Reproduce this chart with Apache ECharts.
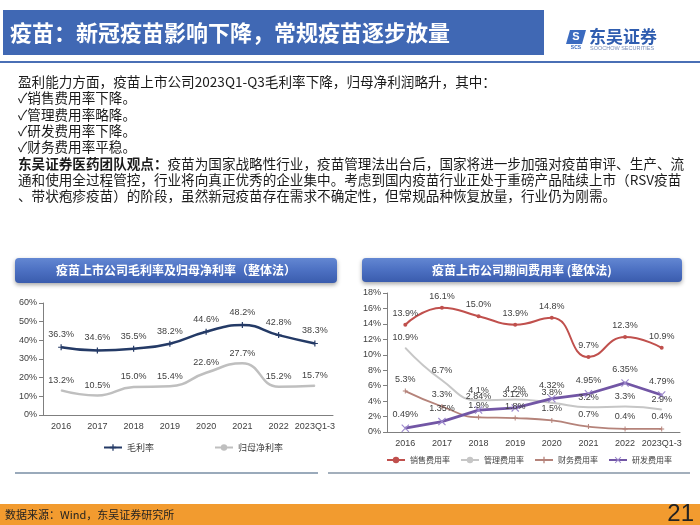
<!DOCTYPE html>
<html>
<head>
<meta charset="utf-8">
<script src="https://cdn.jsdelivr.net/npm/echarts@6/dist/echarts.min.js"></script>
<style>
html,body{margin:0;padding:0;background:#fff;}
#c{width:700px;height:525px;}
</style>
</head>
<body>
<div id="c"></div>
<script>
// ---- data ----
const years = ['2016','2017','2018','2019','2020','2021','2022','2023Q1-3'];
const grossMargin = [36.3,34.6,35.5,38.2,44.6,48.2,42.8,38.3];
const netMargin = [13.2,10.5,15.0,15.4,22.6,27.7,15.2,15.7];
const salesRate = [13.9,16.1,15.0,13.9,14.8,9.7,12.3,10.9];
const adminRate = [10.9,6.7,4.1,4.2,3.8,3.2,3.3,2.9];
const finRate = [5.3,3.3,1.9,1.8,1.5,0.7,0.4,0.4];
const rdRate = [0.49,1.35,2.84,3.12,4.32,4.95,6.35,4.79];
const leftNames = ['毛利率','归母净利率'];
const rightNames = ['销售费用率','管理费用率','财务费用率','研发费用率'];
const mainTitle = '疫苗：新冠疫苗影响下降，常规疫苗逐步放量';
const leftTitle = '疫苗上市公司毛利率及归母净利率（整体法）';
const rightTitle = '疫苗上市公司期间费用率 (整体法)';
const bodyLines = [
  '盈利能力方面，疫苗上市公司2023Q1-Q3毛利率下降，归母净利润略升，其中：',
  '✓销售费用率下降。',
  '✓管理费用率略降。',
  '✓研发费用率下降。',
  '✓财务费用率平稳。',
  '{b|东吴证券医药团队观点：}疫苗为国家战略性行业，疫苗管理法出台后，国家将进一步加强对疫苗审评、生产、流',
  '通和使用全过程管控，行业将向真正优秀的企业集中。考虑到国内疫苗行业正处于重磅产品陆续上市（RSV疫苗',
  '、带状疱疹疫苗）的阶段，虽然新冠疫苗存在需求不确定性，但常规品种恢复放量，行业仍为刚需。'
];
const sourceText = '数据来源：Wind，东吴证券研究所';
const pageNo = '21';

const CJK = '"Noto Sans CJK SC","Noto Sans",sans-serif';
const LAT = '"Liberation Sans",Arial,"Noto Sans CJK SC",sans-serif';

const chart = echarts.init(document.getElementById('c'), null, {renderer:'canvas'});

function fmt1(p){ return p.value.toFixed(1) + '%'; }
function fmt2(p){ return p.value.toFixed(2) + '%'; }

const plusPath = 'path://M4,0h2v4h4v2h-4v4h-2v-4h-4v-2h4z';
const xPath = 'path://M1,0L5,4L9,0L10,1L6,5L10,9L9,10L5,6L1,10L0,9L4,5L0,1Z';

const labelBase = {show:true, position:'top', distance:5, fontSize:9, color:'#404040', fontFamily:LAT};

const graphics = [];
// main title bar
graphics.push({type:'rect', shape:{x:3,y:10,width:541,height:45}, style:{fill:'#4068B4'}});
graphics.push({type:'text', style:{text:mainTitle, x:10, y:33, fill:'#fff', fontSize:22, fontWeight:'bold', fontFamily:CJK, verticalAlign:'middle'}});
graphics.push({type:'rect', shape:{x:0,y:61,width:700,height:2}, style:{fill:'#4A6FB5'}});
// logo
graphics.push({type:'polygon', shape:{points:[[570,30],[586,30],[582,44],[566,44]]}, style:{fill:'#3B6BC0'}});
graphics.push({type:'text', style:{text:'S', x:576, y:37, fill:'#fff', fontSize:11, fontWeight:'bold', fontFamily:LAT, align:'center', verticalAlign:'middle'}});
graphics.push({type:'text', style:{text:'SCS', x:576, y:48, fill:'#3B6BC0', fontSize:5, fontWeight:'bold', fontFamily:LAT, align:'center', verticalAlign:'middle'}});
graphics.push({type:'text', style:{text:'东吴证券', x:589, y:37, fill:'#2F5DAF', fontSize:17, fontWeight:'bold', fontFamily:CJK, verticalAlign:'middle'}});
graphics.push({type:'text', style:{text:'SOOCHOW SECURITIES', x:590, y:48.5, fill:'#7A8FB8', fontSize:5.5, fontFamily:LAT, verticalAlign:'middle'}});
// body text
bodyLines.forEach((t,i)=>{
  graphics.push({type:'text', style:{text:t, x:18, y:82+i*16.3, fill:'#1a1a1a', fontSize:13.6, fontFamily:CJK, verticalAlign:'middle',
    rich:{b:{fontWeight:'bold', fontSize:13.6, fontFamily:CJK, fill:'#1a1a1a'}}}});
});
// chart title boxes
const grad = () => new echarts.graphic.LinearGradient(0,0,0,1,[{offset:0,color:'#6387D2'},{offset:0.5,color:'#4C70C2'},{offset:1,color:'#3A5CAD'}]);
graphics.push({type:'rect', shape:{x:15,y:258,width:322,height:25,r:4}, style:{fill:grad(), shadowBlur:4, shadowOffsetY:2, shadowColor:'rgba(0,0,0,0.35)'}});
graphics.push({type:'text', style:{text:leftTitle, x:176, y:270.5, fill:'#fff', fontSize:12, fontWeight:'bold', fontFamily:CJK, align:'center', verticalAlign:'middle'}});
graphics.push({type:'rect', shape:{x:362,y:258,width:320,height:24,r:4}, style:{fill:grad(), shadowBlur:4, shadowOffsetY:2, shadowColor:'rgba(0,0,0,0.35)'}});
graphics.push({type:'text', style:{text:rightTitle, x:522, y:270, fill:'#fff', fontSize:12, fontWeight:'bold', fontFamily:CJK, align:'center', verticalAlign:'middle'}});
// separators
graphics.push({type:'rect', shape:{x:15,y:472,width:303,height:2}, style:{fill:'#9AAABB'}});
graphics.push({type:'rect', shape:{x:328,y:472,width:362,height:2}, style:{fill:'#A3AFBC'}});
// footer
graphics.push({type:'rect', shape:{x:0,y:504,width:700,height:21}, style:{fill:'#F29B2F'}});
graphics.push({type:'text', style:{text:sourceText, x:5, y:515, fill:'#222', fontSize:11, fontFamily:CJK, verticalAlign:'middle'}});
graphics.push({type:'text', style:{text:pageNo, x:694, y:514, fill:'#222', fontSize:24, fontFamily:LAT, align:'right', verticalAlign:'middle'}});

const axisLineStyle = {color:'#7F7F7F', width:1};
const axisLabelStyle = {fontSize:9, color:'#404040', fontFamily:LAT};

const option = {
  animation:false,
  backgroundColor:'#fff',
  graphic: graphics,
  legend:[
    {data:leftNames, left:103, top:443, padding:0, itemWidth:18, itemHeight:8, itemGap:60, textStyle:{fontSize:9, color:'#404040', fontFamily:CJK}},
    {data:rightNames, left:386, top:456, padding:0, width:310, itemWidth:18, itemHeight:8, itemGap:10, textStyle:{fontSize:8, color:'#404040', fontFamily:CJK}}
  ],
  grid:[
    {left:43, top:303, width:290, height:112},
    {left:387, top:293, width:293, height:139}
  ],
  xAxis:[
    {type:'category', gridIndex:0, data:years, axisLine:{lineStyle:axisLineStyle}, axisTick:{lineStyle:axisLineStyle, length:4}, axisLabel:Object.assign({margin:7, interval:0}, axisLabelStyle)},
    {type:'category', gridIndex:1, data:years, axisLine:{lineStyle:axisLineStyle}, axisTick:{lineStyle:axisLineStyle, length:4}, axisLabel:Object.assign({margin:7, interval:0}, axisLabelStyle)}
  ],
  yAxis:[
    {type:'value', gridIndex:0, min:0, max:60, interval:10, splitLine:{show:false}, axisLine:{show:true, lineStyle:axisLineStyle}, axisTick:{show:true, lineStyle:axisLineStyle, length:4}, axisLabel:Object.assign({formatter:'{value}%', margin:6}, axisLabelStyle)},
    {type:'value', gridIndex:1, min:0, max:18, interval:2, splitLine:{show:false}, axisLine:{show:true, lineStyle:axisLineStyle}, axisTick:{show:true, lineStyle:axisLineStyle, length:4}, axisLabel:Object.assign({formatter:'{value}%', margin:6}, axisLabelStyle)}
  ],
  series:[
    {name:leftNames[0], type:'line', xAxisIndex:0, yAxisIndex:0, data:grossMargin, smooth:true, symbol:plusPath, symbolSize:6,
      lineStyle:{color:'#243A66', width:2.5}, itemStyle:{color:'#243A66'}, label:Object.assign({formatter:fmt1}, labelBase)},
    {name:leftNames[1], type:'line', xAxisIndex:0, yAxisIndex:0, data:netMargin, smooth:true, symbol:'circle', symbolSize:1, showSymbol:true,
      lineStyle:{color:'#BFBFBF', width:2.5}, itemStyle:{color:'#BFBFBF'}, label:Object.assign({formatter:fmt1}, labelBase)},
    {name:rightNames[0], type:'line', xAxisIndex:1, yAxisIndex:1, data:salesRate, smooth:true, symbol:'circle', symbolSize:4,
      lineStyle:{color:'#C0504D', width:2}, itemStyle:{color:'#C0504D'}, label:Object.assign({formatter:fmt1}, labelBase)},
    {name:rightNames[1], type:'line', xAxisIndex:1, yAxisIndex:1, data:adminRate, smooth:true, symbol:'circle', symbolSize:1, showSymbol:true,
      lineStyle:{color:'#C6C6C6', width:2}, itemStyle:{color:'#C6C6C6'}, label:Object.assign({formatter:fmt1}, labelBase)},
    {name:rightNames[2], type:'line', xAxisIndex:1, yAxisIndex:1, data:finRate, smooth:true, symbol:plusPath, symbolSize:5,
      lineStyle:{color:'#B5837A', width:1.8}, itemStyle:{color:'#B5837A'}, label:Object.assign({formatter:fmt1}, labelBase)},
    {name:rightNames[3], type:'line', xAxisIndex:1, yAxisIndex:1, data:rdRate, smooth:false, symbol:xPath, symbolSize:8,
      lineStyle:{color:'#7256A5', width:2.8}, itemStyle:{color:'#9C88CC'}, label:Object.assign({formatter:fmt2, distance:8}, labelBase)}
  ]
};
chart.setOption(option);
</script>
</body>
</html>
